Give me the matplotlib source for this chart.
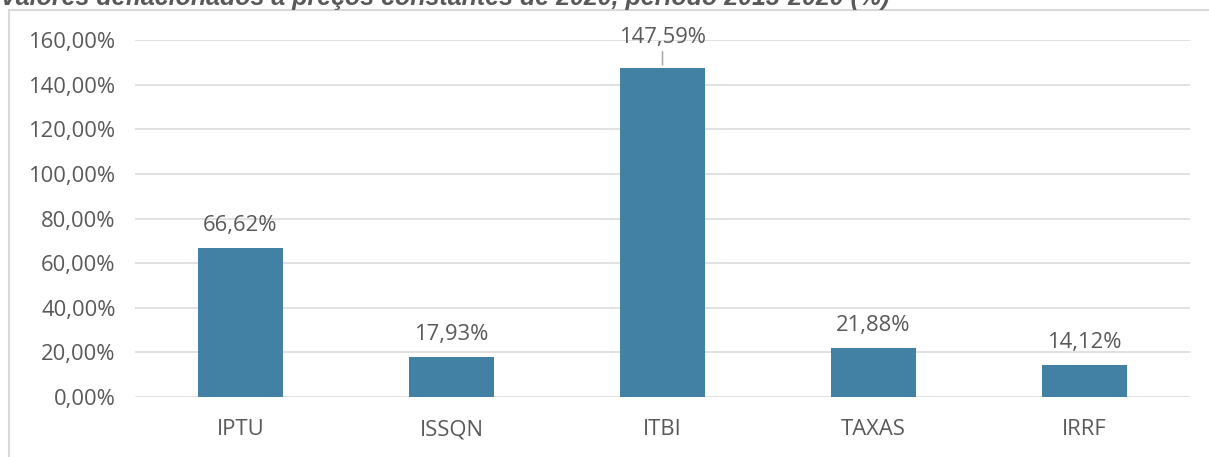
import matplotlib
matplotlib.use("Agg")
import matplotlib.pyplot as plt
from matplotlib.lines import Line2D

# Variação real da arrecadação por tributo
categorias = ["IPTU", "ISSQN", "ITBI", "TAXAS", "IRRF"]
variacao = [66.62, 17.93, 147.59, 21.88, 14.12]
yticks = [0, 20, 40, 60, 80, 100, 120, 140, 160]
titulo = "Valores deflacionados a preços constantes de 2020, período 2013-2020 (%)"

COR_BARRA = "#4280A4"
COR_TEXTO = "#595959"
COR_GRADE = "#D9D9D9"
FONTE = "Open Sans"
TAM = 15.8


def pct(v):
    return f"{v:.2f}".replace(".", ",") + "%"


W, H = 1209, 457
fig = plt.figure(figsize=(W / 100, H / 100), dpi=100)
ax = fig.add_axes([135 / W, 1 - 397 / H, (1190 - 135) / W, (397 - 40) / H])

x = list(range(len(categorias)))
ax.bar(x, variacao, width=0.40, color=COR_BARRA, zorder=3)

ax.set_xlim(-0.5, len(categorias) - 0.5)
ax.set_ylim(0, 160)
ax.set_yticks(yticks)
ax.set_yticklabels([pct(v) for v in yticks], fontsize=TAM, color=COR_TEXTO, family=FONTE)
ax.set_xticks(x)
ax.set_xticklabels(categorias, fontsize=TAM, color=COR_TEXTO, family=FONTE)
ax.tick_params(axis="both", length=0)
ax.tick_params(axis="y", pad=14)
ax.tick_params(axis="x", pad=16)
ax.grid(axis="y", color=COR_GRADE, linewidth=1.1, zorder=0)
for s in ax.spines.values():
    s.set_visible(False)

# Rótulos de dados; o maior fica acima da área com linha de chamada
for xi, v in zip(x, variacao):
    if v > 140:
        ax.annotate(pct(v), xy=(xi, v), xytext=(0, 25), textcoords="offset pixels",
                    ha="center", va="baseline", fontsize=TAM, color=COR_TEXTO,
                    family=FONTE, annotation_clip=False, zorder=5)
        ax.annotate("", xy=(xi, v), xytext=(0, 16), textcoords="offset pixels",
                    arrowprops=dict(arrowstyle="-", color="#A6A6A6", lw=1.1,
                                    shrinkA=0, shrinkB=2),
                    annotation_clip=False)
    else:
        ax.annotate(pct(v), xy=(xi, v), xytext=(0, 17), textcoords="offset pixels",
                    ha="center", va="baseline", fontsize=TAM, color=COR_TEXTO,
                    family=FONTE, zorder=5)

# Moldura do gráfico
fig.add_artist(Line2D([8.5 / W, 8.5 / W], [0, 1 - 9.5 / H], transform=fig.transFigure,
                      color=COR_GRADE, lw=1.5))
fig.add_artist(Line2D([8.5 / W, 1], [1 - 9.5 / H, 1 - 9.5 / H], transform=fig.transFigure,
                      color=COR_GRADE, lw=1.5))

# Título (cortado pela borda superior)
fig.text(0 / W, 1 - 5 / H, titulo, ha="left", va="baseline", fontsize=18,
         fontweight="bold", fontstyle="italic", color=COR_TEXTO, family="Liberation Sans")

fig.savefig("out.png", dpi=100)
